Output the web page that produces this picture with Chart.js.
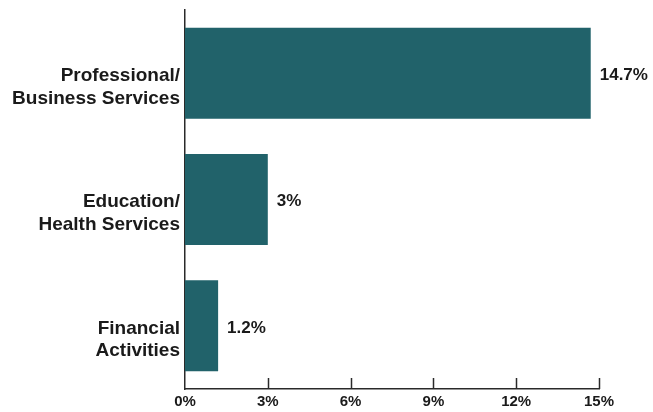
<!DOCTYPE html>
<html>
<head>
<meta charset="utf-8">
<script src="https://cdn.jsdelivr.net/npm/chart.js@4/dist/chart.umd.min.js"></script>
<style>
  html, body { margin: 0; padding: 0; background: #ffffff; }
  #wrap { width: 653px; height: 412px; }
</style>
</head>
<body>
<div id="wrap"><canvas id="chart" width="653" height="412"></canvas></div>
<script>
// Employment share by sector (percent)
const categories = [
  ['Professional/', 'Business Services'],
  ['Education/', 'Health Services'],
  ['Financial', 'Activities']
];
const values = [14.7, 3, 1.2];
const valueLabels = ['14.7%', '3%', '1.2%'];
const xTicks = [0, 3, 6, 9, 12, 15];

const BAR = '#21626a';
const INK = '#1a1a1a';
const AXIS = '#2a2a2a';
const FONT = '"Liberation Sans", Arial, sans-serif';

// Value text just past the end of each bar
const valueLabelPlugin = {
  id: 'valueLabels',
  afterDatasetsDraw(chart) {
    const ctx = chart.ctx;
    const meta = chart.getDatasetMeta(0);
    ctx.save();
    ctx.font = 'bold 17px ' + FONT;
    ctx.fillStyle = INK;
    ctx.textAlign = 'left';
    ctx.textBaseline = 'middle';
    meta.data.forEach((bar, i) => {
      ctx.fillText(valueLabels[i], bar.x + 9, bar.y + 2);
    });
    ctx.restore();
  }
};

// Short tick marks rising from the x axis line
const innerTicksPlugin = {
  id: 'innerTicks',
  afterDraw(chart) {
    const ctx = chart.ctx;
    const xs = chart.scales.x;
    const bottom = chart.chartArea.bottom;
    ctx.save();
    ctx.strokeStyle = AXIS;
    ctx.lineWidth = 1.5;
    xTicks.forEach(v => {
      if (v === 0) return;
      const px = Math.round(xs.getPixelForValue(v)) + 0.5;
      ctx.beginPath();
      ctx.moveTo(px, bottom);
      ctx.lineTo(px, bottom - 11);
      ctx.stroke();
    });
    ctx.restore();
  }
};

new Chart(document.getElementById('chart'), {
  type: 'bar',
  data: {
    labels: categories,
    datasets: [{
      data: values,
      backgroundColor: BAR,
      borderWidth: 0,
      categoryPercentage: 1,
      barPercentage: 0.72
    }]
  },
  options: {
    indexAxis: 'y',
    responsive: false,
    animation: false,
    events: [],
    layout: { padding: { top: 10, right: 54, bottom: 0, left: 0 } },
    plugins: {
      legend: { display: false },
      tooltip: { enabled: false }
    },
    scales: {
      x: {
        type: 'linear',
        min: 0,
        max: 15,
        afterBuildTicks(scale) {
          scale.ticks = xTicks.map(v => ({ value: v }));
        },
        afterFit(scale) {
          scale.height = 23;
          scale.paddingLeft = 0;
          scale.paddingRight = 0;
        },
        grid: { display: false, drawTicks: false },
        border: { display: true, color: AXIS, width: 1.5 },
        ticks: {
          padding: 4,
          color: INK,
          font: { family: FONT, size: 15, weight: 'bold' },
          callback: v => v + '%'
        }
      },
      y: {
        afterFit(scale) {
          scale.width = 185;
          scale.paddingTop = 0;
          scale.paddingBottom = 0;
        },
        grid: { display: false, drawTicks: false },
        border: { display: true, color: AXIS, width: 1.5 },
        ticks: {
          padding: 5,
          labelOffset: 14,
          color: INK,
          font: { family: FONT, size: 19, weight: 'bold', lineHeight: 1.2 }
        }
      }
    }
  },
  plugins: [valueLabelPlugin, innerTicksPlugin]
});
</script>
</body>
</html>
